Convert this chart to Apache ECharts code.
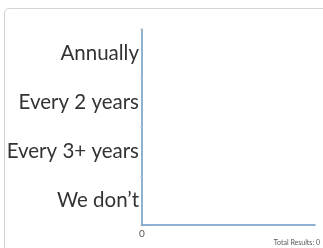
<!DOCTYPE html>
<html><head><meta charset="utf-8">
<script src="https://cdn.jsdelivr.net/npm/echarts@6/dist/echarts.min.js"></script>
<style>
html,body{margin:0;padding:0;width:323px;height:248px;overflow:hidden;background:#fff;}
#frame{position:absolute;left:4px;top:8px;width:340px;height:260px;border:1px solid #d4d4d4;border-radius:5px;}
#c{position:absolute;left:0;top:0;width:323px;height:248px;}
</style></head>
<body>
<div id="frame"></div>
<div id="c"></div>
<script>
const categories = ['Annually', 'Every 2 years', 'Every 3+ years', 'We don\u2019t'];
const values = [0, 0, 0, 0];
const totalText = 'Total Results: 0';

const chart = echarts.init(document.getElementById('c'));
chart.setOption({
  animation: false,
  grid: {left: 142, top: 29, right: 8, bottom: 23, containLabel: false},
  xAxis: {
    type: 'value', min: 0, max: 1,
    axisLine: {show: true, lineStyle: {color: '#6a98c2', width: 1.5}},
    axisTick: {show: false},
    splitLine: {show: false},
    axisLabel: {color: '#555', fontSize: 10, fontFamily: 'Lato', margin: 4,
      formatter: v => v === 0 ? '0' : ''}
  },
  yAxis: {
    type: 'category', data: categories, inverse: true,
    axisLine: {show: true, lineStyle: {color: '#6a98c2', width: 1.5}},
    axisTick: {show: true, length: 2, lineStyle: {color: '#ccc'}},
    axisLabel: {color: '#333', fontSize: 20.5, fontFamily: 'Lato', margin: 3}
  },
  series: [{type: 'bar', data: values, itemStyle: {color: '#6a98c2'}}],
  graphic: [{type: 'text', right: 3, bottom: 2,
    style: {text: totalText, fontSize: 7, fill: '#555', fontFamily: 'Lato'}}]
});
</script>
</body></html>
